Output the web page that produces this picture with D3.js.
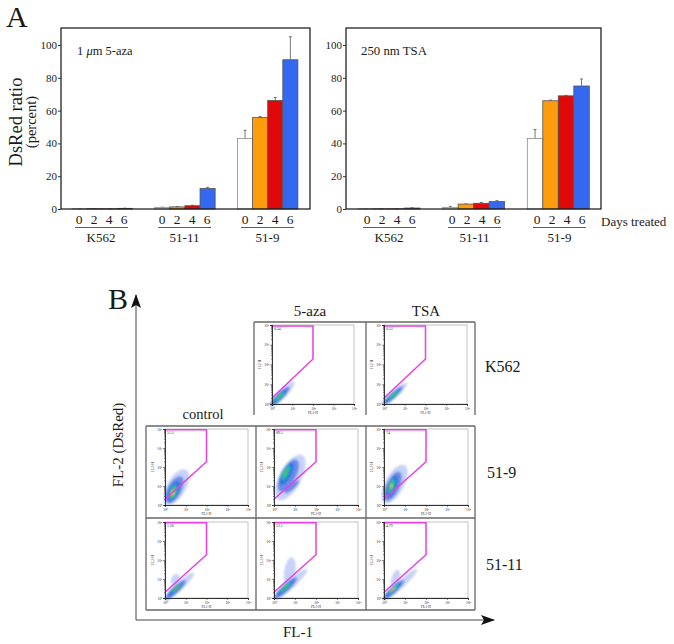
<!DOCTYPE html>
<html><head><meta charset="utf-8">
<style>html,body{margin:0;background:#fff}svg{display:block}text{font-family:"Liberation Serif",serif;fill:#1a1a1a}</style>
<script src="https://cdn.jsdelivr.net/npm/d3@7"></script></head><body><svg id="c" width="674" height="644"></svg>
<script>
const groups=["K562","51-11","51-9"];
const days=["0","2","4","6"];
const dayColors=["#ffffff","#ff9c0c","#e00808","#3468f0"];
const yTicks=[0,20,40,60,80,100];
const azaValues=[[0.1,0.2,0.1,0.4],[1,1.3,2,12.5],[43,55.8,66.2,91]];
const azaErrors=[[0.05,0.05,0.05,0.1],[0.1,0.2,0.3,0.7],[5,0.6,1.8,14]];
const tsaValues=[[0.1,0.1,0.1,0.6],[1,3,3.5,4.5],[43,66,69,75]];
const tsaErrors=[[0.05,0.05,0.05,0.2],[0.6,0.1,0.5,0.6],[5.5,0.4,0.3,4.3]];
const gateVertices=[[1,9000],[100,9000],[100,190],[1,2]];
const decadeTicks=[1,10,100,1000,10000];
const minorTicks=[2,3,4,5,6,7,8,9,20,30,40,50,60,70,80,90,200,300,400,500,600,700,800,900,2000,3000,4000,5000,6000,7000,8000,9000];
const shades=["#c6d2f7","#6c8ce8","#2f78dc","#28bcb4","#4cc040","#e0d820","#e85020"];
// density contours: [shade, log10 FL-1, log10 FL-2, long radius, short radius (decades), tilt in degrees]
const cloudK562Aza=[[0,.5,.5,.85,.19,-45],[1,.38,.38,.66,.18,-45],[2,.35,.36,.48,.14,-45],[3,.37,.38,.32,.09,-45],[4,.38,.42,.2,.05,-45]];
const cloudK562Tsa=[[0,.5,.5,.82,.17,-42],[1,.42,.42,.66,.15,-42],[2,.42,.42,.5,.11,-42],[3,.45,.47,.35,.08,-42],[4,.45,.48,.2,.04,-42]];
const cloudCtl519=[[0,.55,.95,.95,.45,-60],[1,.45,.8,.72,.34,-62],[2,.42,.72,.52,.24,-65],[3,.4,.68,.36,.16,-68],[4,.38,.66,.25,.1,-70],[5,.38,.64,.13,.06,-70]];
const cloudAza519=[[0,.78,1.45,1.2,.52,-62],[1,.68,1.55,.85,.36,-62],[2,.6,1.65,.6,.23,-62],[3,.56,1.7,.38,.14,-62],[4,.55,1.7,.18,.06,-62],[1,.85,.95,.45,.13,-42]];
const cloudTsa519=[[0,.5,1.1,1.02,.45,-62],[1,.42,.98,.76,.32,-65],[2,.38,.98,.55,.21,-70],[3,.36,1,.36,.13,-75],[4,.35,1,.22,.08,-75],[5,.35,1,.1,.04,-75]];
const cloudCtl5111=[[0,.7,.62,.95,.19,-43],[0,.5,.95,.3,.2,-70],[1,.5,.42,.68,.17,-43],[2,.5,.46,.48,.13,-43],[3,.55,.52,.32,.08,-43],[4,.55,.52,.2,.05,-43],[6,.55,.52,.07,.025,-43]];
const cloudAza5111=[[0,.75,1.35,.72,.27,-82],[0,.8,.72,1.05,.2,-43],[1,.55,.52,.74,.17,-43],[2,.55,.55,.55,.12,-43],[3,.55,.58,.36,.08,-43],[4,.5,.54,.2,.05,-43]];
const cloudTsa5111=[[0,.55,1,.45,.2,-75],[0,.8,.72,1.05,.18,-43],[1,.45,.42,.68,.16,-43],[2,.45,.45,.5,.12,-43],[3,.45,.47,.32,.08,-43],[5,.42,.44,.16,.04,-43],[6,.4,.42,.07,.025,-43]];
const gatePercents=["0.34","0.53","51.5","89.5","74","1.26","12.1","4.79"];
const columnNames=["control","5-aza","TSA"];
const rowNames=["K562","51-9","51-11"];

const svg=d3.select("#c");
const defs=svg.append("defs");
defs.append("filter").attr("id","soft").attr("x","-40%").attr("y","-40%").attr("width","180%").attr("height","180%")
  .append("feGaussianBlur").attr("stdDeviation",.8);
const mk=defs.append("marker").attr("id","arrow").attr("viewBox","0 0 14 10").attr("refX",13).attr("refY",5)
  .attr("markerUnits","userSpaceOnUse").attr("markerWidth",14).attr("markerHeight",10).attr("orient","auto");
mk.append("path").attr("d","M0,0L14,5L0,10L3,5Z").attr("fill","#111");

function txt(x,y,s,size,anchor,rot){
  const t=svg.append("text").attr("font-size",size).attr("text-anchor",anchor||"start").text(s);
  if(rot) t.attr("transform",`translate(${x},${y}) rotate(${rot})`); else t.attr("x",x).attr("y",y);
  return t;
}

function barPanel(o){
  const g=svg.append("g");
  const y=d3.scaleLinear().domain([0,100]).range([209,45]);
  const gx=d3.scalePoint().domain(groups).range(o.barRange);
  const dx=d3.scaleBand().domain(days).range([0,o.bw*4]);
  const lx=d3.scalePoint().domain(groups).range(o.labelRange);
  const ld=d3.scalePoint().domain(days).range([0,45]);
  groups.forEach((gr,i)=>{
    days.forEach((d,j)=>{
      const v=o.values[i][j],e=o.errors[i][j],cx=gx(gr)+dx(d)+o.bw/2;
      g.append("line").attr("x1",cx).attr("x2",cx).attr("y1",y(v)).attr("y2",y(v+e)).attr("stroke","#555").attr("stroke-width",.8);
      g.append("line").attr("x1",cx-1.5).attr("x2",cx+1.5).attr("y1",y(v+e)).attr("y2",y(v+e)).attr("stroke","#555").attr("stroke-width",.8);
      g.append("rect").attr("x",gx(gr)+dx(d)).attr("width",o.bw).attr("y",y(v)).attr("height",y(0)-y(v))
        .attr("fill",dayColors[j]).attr("stroke",j==0?"#8a8a8a":"#555").attr("stroke-width",.8);
      txt(lx(gr)+ld(d),224,d,13.5,"middle");
    });
    const a=lx(gr)-4,b=lx(gr)+49;
    g.append("line").attr("x1",a).attr("x2",b).attr("y1",227.5).attr("y2",227.5).attr("stroke","#333").attr("stroke-width",.8);
    txt((a+b)/2+(i==0?-.5:0),242,gr,13,"middle");
  });
  g.append("rect").attr("x",o.left).attr("y",28).attr("width",o.right-o.left).attr("height",181).attr("fill","none").attr("stroke","#111").attr("stroke-width",1.2);
  const ax=g.append("g").attr("transform",`translate(${o.left},0)`).call(d3.axisLeft(y).tickValues(yTicks).tickSize(3).tickPadding(1));
  ax.select(".domain").remove();
  ax.selectAll("line").attr("stroke","#333");
  ax.selectAll("text").attr("font-size",11).attr("font-family",'"Liberation Serif",serif');
}
barPanel({values:azaValues,errors:azaErrors,barRange:[72,237.5],labelRange:[79,245],bw:15.1,left:61,right:310});
barPanel({values:tsaValues,errors:tsaErrors,barRange:[358,527.3],labelRange:[367,537],bw:15.5,left:346,right:601});

const lab1=txt(77,55,"",12.5);
lab1.append("tspan").text("1 ");
lab1.append("tspan").attr("font-style","italic").text("μ");
lab1.append("tspan").text("m 5-aza");
txt(361,55,"250 nm TSA",12.8);
txt(601,226,"Days treated",13);
txt(22,122,"DsRed ratio",18.5,"middle",-90);
txt(36,122,"(percent)",14.5,"middle",-90);
txt(6,27,"A",30);
txt(108,309,"B",30);

// frame grids of panel B
const grid=svg.append("g").attr("stroke","#666").attr("stroke-width",1.3).attr("fill","none");
[[254,322,475,322],[254,322,254,415],[366,322,366,415],[475,322,475,415],
 [146,426,475,426],[146,518,475,518],[146,610,475,610],
 [146,426,146,610],[256,426,256,610],[366,426,366,610],[475,426,475,610]].forEach(l=>
  grid.append("line").attr("x1",l[0]).attr("y1",l[1]).attr("x2",l[2]).attr("y2",l[3]));

const facs=[
 {x0:272,x1:354,y0:404,y1:325,cloud:cloudK562Aza,pct:gatePercents[0]},
 {x0:384,x1:467,y0:404,y1:325,cloud:cloudK562Tsa,pct:gatePercents[1]},
 {x0:165,x1:248,y0:505,y1:429,cloud:cloudCtl519,pct:gatePercents[2]},
 {x0:274,x1:358,y0:505,y1:429,cloud:cloudAza519,pct:gatePercents[3]},
 {x0:384,x1:468,y0:505,y1:429,cloud:cloudTsa519,pct:gatePercents[4]},
 {x0:165,x1:248,y0:598,y1:522,cloud:cloudCtl5111,pct:gatePercents[5]},
 {x0:274,x1:358,y0:598,y1:522,cloud:cloudAza5111,pct:gatePercents[6]},
 {x0:384,x1:468,y0:598,y1:522,cloud:cloudTsa5111,pct:gatePercents[7]}
];
const sup=d=>"10"+"⁰¹²³⁴"[Math.round(Math.log10(d))];
facs.forEach(p=>{
  const g=svg.append("g");
  const x=d3.scaleLog().domain([1,1e4]).range([p.x0,p.x1]);
  const y=d3.scaleLog().domain([1,1e4]).range([p.y0,p.y1]);
  g.append("rect").attr("x",p.x0).attr("y",p.y1).attr("width",p.x1-p.x0).attr("height",p.y0-p.y1)
    .attr("fill","#fff").attr("stroke","#999").attr("stroke-width",.6);
  const clip="clip"+p.x0+"_"+p.y0;
  defs.append("clipPath").attr("id",clip).append("rect").attr("x",p.x0-3).attr("y",p.y1).attr("width",p.x1-p.x0+3).attr("height",p.y0-p.y1+3);
  const c=g.append("g").attr("clip-path",`url(#${clip})`).append("g").attr("filter","url(#soft)");
  const pxPerDecade=x(10)-x(1);
  p.cloud.forEach(b=>{
    c.append("ellipse").attr("transform",`translate(${x(10**b[1])},${y(10**b[2])}) rotate(${b[5]})`)
      .attr("rx",b[3]*pxPerDecade).attr("ry",b[4]*pxPerDecade).attr("fill",shades[b[0]]);
  });
  g.append("path").attr("d",d3.line().x(d=>x(d[0])).y(d=>y(d[1]))(gateVertices))
    .attr("fill","none").attr("stroke","#e83fe6").attr("stroke-width",1.5);
  const style=(a)=>{a.select(".domain").attr("stroke","#222").attr("stroke-width",.7);a.selectAll("line").attr("stroke","#222").attr("stroke-width",.5);
    a.selectAll("text").attr("font-size",3.6).attr("fill","#444");};
  const bx=g.append("g").attr("transform",`translate(0,${p.y0})`).call(d3.axisBottom(x).tickValues(decadeTicks).tickSize(2).tickPadding(1).tickFormat(sup));style(bx);
  const bm=g.append("g").attr("transform",`translate(0,${p.y0})`).call(d3.axisBottom(x).tickValues(minorTicks).tickSize(1).tickFormat(""));style(bm);
  const ly=g.append("g").attr("transform",`translate(${p.x0},0)`).call(d3.axisLeft(y).tickValues(decadeTicks).tickSize(2).tickPadding(1).tickFormat(sup));style(ly);
  const lm=g.append("g").attr("transform",`translate(${p.x0},0)`).call(d3.axisLeft(y).tickValues(minorTicks).tickSize(1).tickFormat(""));style(lm);
  g.append("text").attr("x",x(1)+2).attr("y",p.y1+4.5).attr("font-size",3.8).attr("fill","#444").text(p.pct);
  g.append("text").attr("x",(p.x0+p.x1)/2).attr("y",p.y0+9.5).attr("text-anchor","middle").attr("font-size",3.6).attr("fill","#444").text("FL1-H");
  g.append("text").attr("transform",`translate(${p.x0-11},${(p.y0+p.y1)/2}) rotate(-90)`).attr("text-anchor","middle").attr("font-size",3.6).attr("fill","#444").text("FL2-H");
});

// axes arrows
svg.append("line").attr("x1",136).attr("y1",620).attr("x2",136).attr("y2",295).attr("stroke","#444").attr("stroke-width",1).attr("marker-end","url(#arrow)");
svg.append("line").attr("x1",136).attr("y1",620).attr("x2",494).attr("y2",620).attr("stroke","#444").attr("stroke-width",1).attr("marker-end","url(#arrow)");

txt(310,316,columnNames[1],15,"middle");
txt(426,316,columnNames[2],15,"middle");
txt(203,419,columnNames[0],14.5,"middle");
txt(485,372,rowNames[0],16);
txt(487,478,rowNames[1],16);
txt(486,570,rowNames[2],16);
txt(298,637,"FL-1",15,"middle");
txt(123,445,"FL-2 (DsRed)",15,"middle",-90);
</script></body></html>
